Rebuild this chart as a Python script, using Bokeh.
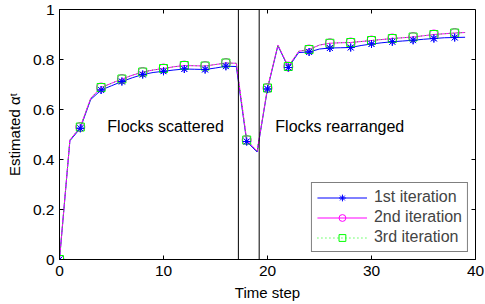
import math
from bokeh.plotting import figure
from bokeh.models import FixedTicker, Span, Legend, LegendItem, Range1d
from bokeh.core.properties import value
from bokeh.embed import file_html
from bokeh.resources import INLINE

# ---- data ----
t = list(range(40))
iter1 = [0.0, 0.475, 0.525, 0.640, 0.678, 0.695, 0.712, 0.727, 0.740, 0.748,
         0.753, 0.758, 0.762, 0.761, 0.760, 0.766, 0.773, 0.772, 0.472, 0.430,
         0.682, 0.855, 0.768, 0.828, 0.830, 0.842, 0.846, 0.847, 0.848, 0.856,
         0.862, 0.867, 0.871, 0.874, 0.877, 0.881, 0.884, 0.887, 0.888, 0.889]
iter2 = [0.0, 0.478, 0.530, 0.645, 0.688, 0.705, 0.722, 0.737, 0.750, 0.758,
         0.764, 0.771, 0.776, 0.775, 0.774, 0.780, 0.786, 0.785, 0.478, 0.433,
         0.686, 0.858, 0.772, 0.833, 0.840, 0.858, 0.865, 0.867, 0.868, 0.872,
         0.876, 0.880, 0.884, 0.887, 0.890, 0.895, 0.900, 0.903, 0.906, 0.908]
iter3 = [0.0, 0.478, 0.530, 0.645, 0.688, 0.705, 0.722, 0.737, 0.750, 0.758,
         0.764, 0.771, 0.776, 0.775, 0.774, 0.780, 0.786, 0.785, 0.478, 0.433,
         0.686, 0.858, 0.772, 0.833, 0.840, 0.858, 0.865, 0.867, 0.868, 0.872,
         0.876, 0.880, 0.884, 0.887, 0.890, 0.895, 0.900, 0.903, 0.906, 0.908]
series_names = ["1st iteration", "2nd iteration", "3rd iteration"]
event_times = [17.2, 19.2]
annot_x = [4.6, 20.75]
annot_y = [0.533, 0.533]
annot_text = ["Flocks scattered", "Flocks rearranged"]
x_ticks = [0, 10, 20, 30, 40]
y_ticks = [0, 0.2, 0.4, 0.6, 0.8, 1]
y_tick_labels = ["0", "0.2", "0.4", "0.6", "0.8", "1"]
x_min, x_max = 0, 40
y_min, y_max = 0, 1
marker_step = 2

FONT = "Liberation Sans"

p = figure(width=485, height=304, output_backend="svg", toolbar_location=None,
           x_range=Range1d(x_min, x_max), y_range=Range1d(y_min, y_max))
p.min_border_left = 59
p.min_border_right = 10
p.min_border_top = 9
p.min_border_bottom = 45
p.grid.visible = False
p.outline_line_color = "black"
p.outline_line_width = 1
p.background_fill_color = "white"

for ax in (p.xaxis[0], p.yaxis[0]):
    ax.major_tick_in = 4
    ax.major_tick_out = 0
    ax.minor_tick_line_color = None
    ax.axis_line_color = "black"
    ax.major_label_text_font = FONT
    ax.major_label_text_font_size = "15.5px"
    ax.major_label_text_color = "black"
    ax.axis_label_text_font = FONT
    ax.axis_label_text_font_size = "15px"
    ax.axis_label_text_font_style = "normal"
    ax.axis_label_text_color = "black"

p.xaxis.ticker = FixedTicker(ticks=x_ticks)
p.yaxis.ticker = FixedTicker(ticks=y_ticks)
p.yaxis.major_label_overrides = {k: v for k, v in zip(y_ticks, y_tick_labels)}
p.xaxis.axis_label = "Time step"
p.yaxis.axis_label = "Estimated \u03b1\u1d57"
p.xaxis.major_label_standoff = 6
p.xaxis.axis_label_standoff = 5
p.yaxis.major_label_standoff = 5
p.yaxis.axis_label_standoff = 7

# inward ticks on the top and right edges of the box
p.ray(x=[x_max] * len(y_ticks), y=y_ticks, length=4, length_units="screen",
      angle=math.pi, line_color="black", line_width=1)
p.ray(x=x_ticks, y=[y_max] * len(x_ticks), length=4, length_units="screen",
      angle=-math.pi / 2, line_color="black", line_width=1)

ts = t[::marker_step]
l1 = p.line(t, iter1, line_color="#0000ff", line_width=1)
m1 = p.scatter(ts, iter1[::marker_step], marker="asterisk", size=8, line_color="#0000ff", line_width=1)
l2 = p.line(t, iter2, line_color="#ff00ff", line_width=1)
m2 = p.scatter(ts, iter2[::marker_step], marker="circle", size=9, line_color="#ff00ff",
               fill_color=None, line_width=1)
l3 = p.line(t, iter3, line_color="#00ff00", line_width=1, line_dash="1 3")
m3 = p.scatter(ts, iter3[::marker_step], marker="square", size=8, line_color="#00ff00",
               fill_color=None, line_width=1)
# blue markers drawn again on top so the asterisks stay visible
p.scatter(ts, iter1[::marker_step], marker="asterisk", size=8, line_color="#0000ff", line_width=1)

for et in event_times:
    p.add_layout(Span(location=et, dimension="height", line_color="black", line_width=1))

p.text(annot_x, annot_y, text=annot_text, text_font=value(FONT), text_font_size="16px",
       text_baseline="middle", text_align="left", text_color="black")

legend = Legend(items=[LegendItem(label=series_names[0], renderers=[l1, m1]),
                       LegendItem(label=series_names[1], renderers=[l2, m2]),
                       LegendItem(label=series_names[2], renderers=[l3, m3])],
                location="bottom_right")
legend.label_text_font = FONT
legend.label_text_font_size = "16px"
legend.border_line_color = "black"
legend.border_line_width = 1
legend.background_fill_alpha = 1
legend.glyph_width = 50
legend.glyph_height = 17
legend.label_height = 17
legend.label_standoff = 7
legend.spacing = 2
legend.padding = 5
legend.margin = 7
p.add_layout(legend)

open("out.html", "w").write(file_html(p, INLINE))
